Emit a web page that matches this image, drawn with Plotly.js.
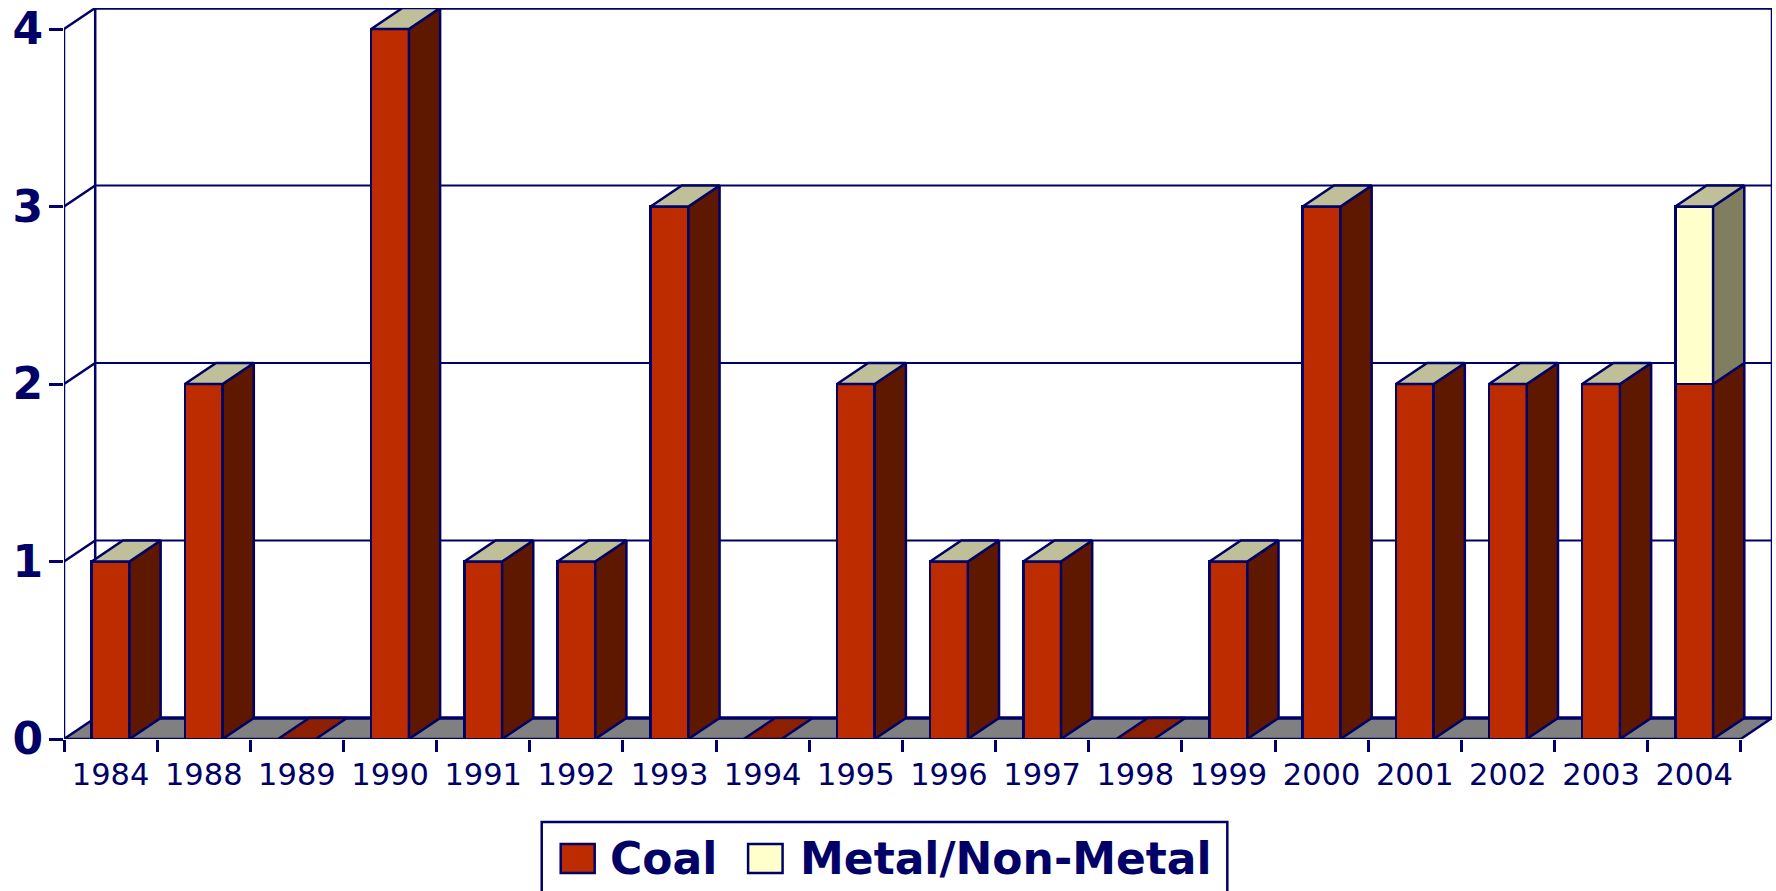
<!DOCTYPE html>
<html>
<head>
<meta charset="utf-8">
<script src="https://cdn.plot.ly/plotly-3.0.1.min.js"></script>
<style>html,body{margin:0;padding:0;background:#fff;overflow:hidden}#chart{width:1776px;height:891px}</style>
</head>
<body>
<div id="chart"></div>
<script>
const years = ['1984','1988','1989','1990','1991','1992','1993','1994','1995','1996','1997','1998','1999','2000','2001','2002','2003','2004'];
const coal  = [1,2,0,4,1,1,3,0,2,1,1,0,1,3,2,2,2,2];
const metal = [0,0,0,0,0,0,0,0,0,0,0,0,0,0,0,0,0,1];
const yTicks = [0,1,2,3,4];
const seriesNames = ['Coal','Metal/Non-Metal'];

const W = 1776, H = 891, mL = 63.5, mR = 3.5, mT = 8, mB = 152;
const NAVY = '#000066', COAL = '#BD2C00', COAL_SIDE = '#5F1800', COAL_FLAT = '#8C2000',
      METAL = '#FFFFCC', METAL_SIDE = '#7F7F60', TOP = '#BFBF99', FLOOR = '#808080';
const n = years.length, DX = 0.335, DY = 0.1183, BAR = 0.405, yMax = Math.max(...yTicks);
const idx = years.map((_, i) => i);
const xL = -0.5, xR = n - 0.5;

function polys(list) {
  const x = [], y = [];
  list.forEach(p => { p.forEach(q => { x.push(q[0]); y.push(q[1]); }); x.push(p[0][0], null); y.push(p[0][1], null); });
  return {x, y};
}
const side = (i, a, b) => {
  const r = i + BAR / 2;
  return [[r, a], [r + DX, a + DY], [r + DX, b + DY], [r, b]];
};
const cap = (i, v) => {
  const l = i - BAR / 2, r = i + BAR / 2;
  return [[l, v], [r, v], [r + DX, v + DY], [l + DX, v + DY]];
};
const polyTrace = (pts, fill) => ({
  type: 'scatter', mode: 'lines', x: pts.x, y: pts.y, fill: 'toself', fillcolor: fill,
  line: {color: NAVY, width: 2.5}, hoverinfo: 'skip', showlegend: false, cliponaxis: false, connectgaps: false
});
const barTrace = (name, vals, color) => ({
  type: 'bar', name, x: idx, y: vals, width: BAR, marker: {color, line: {color: NAVY, width: 2.5}},
  showlegend: false, cliponaxis: false, hovertemplate: '%{customdata}: %{y}<extra>' + name + '</extra>', customdata: years
});

const traces = [
  barTrace(seriesNames[0], coal, COAL),
  barTrace(seriesNames[1], metal, METAL),
  polyTrace(polys(idx.filter(i => coal[i] > 0).map(i => side(i, 0, coal[i]))), COAL_SIDE),
  polyTrace(polys(idx.filter(i => metal[i] > 0).map(i => side(i, coal[i], coal[i] + metal[i]))), METAL_SIDE),
  polyTrace(polys(idx.filter(i => coal[i] + metal[i] > 0).map(i => cap(i, coal[i] + metal[i]))), TOP),
  polyTrace(polys(idx.filter(i => coal[i] + metal[i] === 0).map(i => cap(i, 0))), COAL_FLAT)
];

const seg = (x0, y0, x1, y1, width) => ({type: 'line', layer: 'below', xref: 'x', yref: 'y', x0, y0, x1, y1, line: {color: NAVY, width}});
const shapes = [
  {type: 'path', layer: 'below', xref: 'x', yref: 'y', fillcolor: FLOOR, line: {width: 0},
   path: `M${xL},0 L${xR},0 L${xR + DX},${DY} L${xL + DX},${DY} Z`},
  seg(xL, 0, xR, 0, 2.5),
  seg(xL + DX, DY, xR + DX, DY, 3.5),
  seg(xR, 0, xR + DX, DY, 2.5),
  seg(xL, 0, xL, yMax, 2.5),
  seg(xL + DX, DY, xL + DX, yMax + DY, 2.5),
  seg(xR + DX, DY, xR + DX, yMax + DY, 2.5),
  seg(xL + DX, yMax + DY, xR + DX, yMax + DY, 3.5)
];
yTicks.forEach(v => {
  shapes.push(seg(xL, v, xL + DX, v + DY, 2.5));
  if (v > 0 && v < yMax) shapes.push(seg(xL + DX, v + DY, xR + DX, v + DY, 2));
});

// legend, placed in page pixels
const px = x => (x - mL) / (W - mL - mR);
const py = y => (H - mB - y) / (H - mT - mB);
const box = (x0, y0, x1, y1, fill, width) => ({type: 'rect', xref: 'paper', yref: 'paper',
  x0: px(x0), x1: px(x1), y0: py(y1), y1: py(y0), fillcolor: fill, line: {color: NAVY, width}});
shapes.push(box(541.5, 822, 1227.5, 905, '#FFFFFF', 2.5));
shapes.push(box(560.5, 844, 594.5, 873, COAL, 2.5));
shapes.push(box(748, 844, 782.5, 873, METAL, 2.5));
const legendFont = {family: '"DejaVu Sans", sans-serif', size: 44, color: NAVY, weight: 700};
const annotations = [
  {text: '<b>' + seriesNames[0] + '</b>', x: px(608), y: py(858), xref: 'paper', yref: 'paper', xanchor: 'left', yanchor: 'middle', showarrow: false, font: legendFont},
  {text: '<b>' + seriesNames[1] + '</b>', x: px(798), y: py(858), xref: 'paper', yref: 'paper', xanchor: 'left', yanchor: 'middle', showarrow: false, font: legendFont}
];

const layout = {
  width: W, height: H, margin: {l: mL, r: mR, t: mT, b: mB, pad: 0, autoexpand: false},
  paper_bgcolor: '#FFFFFF', plot_bgcolor: '#FFFFFF', barmode: 'stack', showlegend: false,
  xaxis: {type: 'linear', range: [xL, xR + DX], tickmode: 'array', tickvals: idx, ticktext: years, ticks: '',
          showgrid: false, zeroline: false, showline: false, ticklabelstandoff: 14,
          tickfont: {family: '"DejaVu Sans", sans-serif', size: 30.5, color: NAVY},
          minor: {tick0: xL, dtick: 1, ticks: 'outside', ticklen: 12, tickwidth: 2.5, tickcolor: NAVY, showgrid: false}},
  yaxis: {type: 'linear', range: [0, yMax + DY], tickmode: 'array', tickvals: yTicks, ticktext: yTicks.map(String),
          ticks: 'outside', ticklen: 14, tickwidth: 2.5, tickcolor: NAVY, showgrid: false, zeroline: false, showline: false,
          ticklabelstandoff: -3,
          tickfont: {family: '"DejaVu Sans", sans-serif', size: 44, color: NAVY, weight: 700}},
  shapes, annotations
};
Plotly.newPlot('chart', traces, layout, {displayModeBar: false});
</script>
</body>
</html>
